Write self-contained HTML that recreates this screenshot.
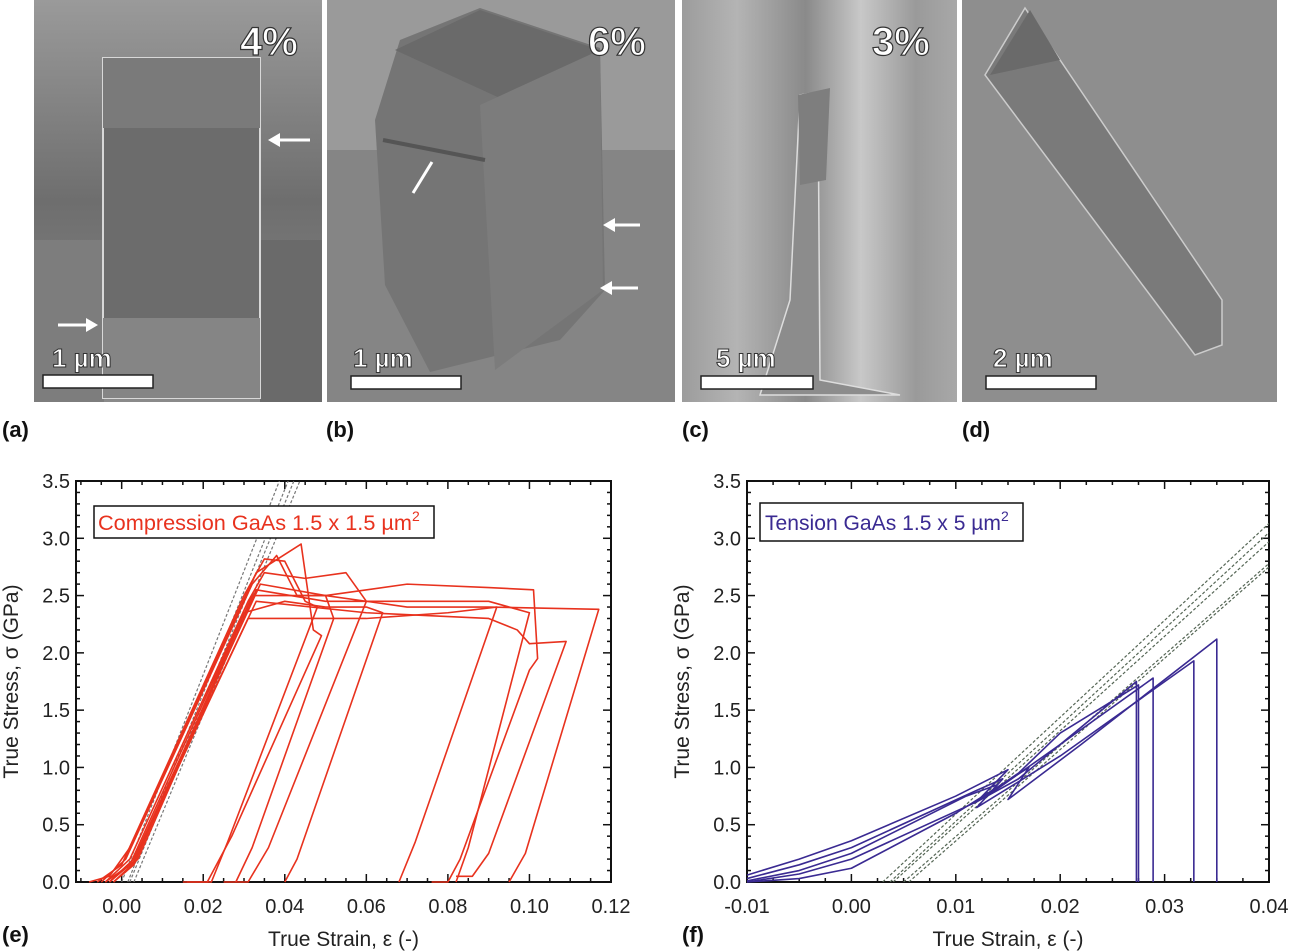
<!DOCTYPE html>
<html><head><meta charset="utf-8">
<style>
html,body{margin:0;padding:0;background:#fff;}
svg{display:block;font-family:"Liberation Sans",sans-serif;}
</style></head>
<body>
<svg id="fig" width="1289" height="952" viewBox="0 0 1289 952" xmlns="http://www.w3.org/2000/svg">
<defs>
<linearGradient id="gA" x1="0" y1="0" x2="0" y2="1"><stop offset="0" stop-color="#9a9a9a"/><stop offset="0.5" stop-color="#6e6e6e"/><stop offset="1" stop-color="#8a8a8a"/></linearGradient>
<linearGradient id="gC" x1="0" y1="0" x2="1" y2="0"><stop offset="0" stop-color="#9c9c9c"/><stop offset="0.2" stop-color="#b4b4b4"/><stop offset="0.45" stop-color="#8a8a8a"/><stop offset="0.65" stop-color="#c8c8c8"/><stop offset="0.85" stop-color="#9a9a9a"/><stop offset="1" stop-color="#a8a8a8"/></linearGradient>
</defs>

<g>
<rect x="34" y="0" width="288" height="402" fill="url(#gA)"/>
<rect x="34" y="240" width="70" height="162" fill="#7d7d7d"/>
<rect x="260" y="240" width="62" height="162" fill="#6a6a6a"/>
<rect x="103" y="58" width="157" height="340" fill="#6c6c6c" stroke="#d8d8d8" stroke-width="2"/>
<rect x="103" y="58" width="157" height="70" fill="#7a7a7a"/>
<rect x="103" y="318" width="157" height="80" fill="#858585"/>
<line x1="272" y1="140" x2="310" y2="140" stroke="#fff" stroke-width="3"/><polygon points="268,140 280,133 280,147" fill="#fff"/>
<line x1="58" y1="325" x2="92" y2="325" stroke="#fff" stroke-width="3"/><polygon points="98,325 86,318 86,332" fill="#fff"/>
<text x="240" y="55" font-size="40" font-weight="bold" fill="#fff" stroke="#333" stroke-width="1.2">4%</text>
<text x="52" y="367" font-size="26" font-weight="bold" fill="#fff" stroke="#333" stroke-width="1">1 µm</text>
<rect x="43" y="375" width="110" height="13" fill="#fff" stroke="#222" stroke-width="1.5"/>
</g>
<g>
<rect x="327" y="0" width="348" height="402" fill="#858585"/>
<rect x="327" y="0" width="348" height="150" fill="#9a9a9a"/>
<polygon points="375,120 400,40 480,8 600,48 605,290 560,340 430,372 385,285" fill="#757575"/>
<polygon points="395,50 480,10 600,50 515,105" fill="#6a6a6a"/>
<polygon points="480,105 600,50 603,290 495,370" fill="#7c7c7c"/>
<line x1="383" y1="140" x2="485" y2="160" stroke="#555" stroke-width="4"/>
<line x1="413" y1="193" x2="432" y2="162" stroke="#fff" stroke-width="3"/>
<line x1="612" y1="225" x2="640" y2="225" stroke="#fff" stroke-width="3"/><polygon points="603,225 615,218 615,232" fill="#fff"/>
<line x1="610" y1="288" x2="638" y2="288" stroke="#fff" stroke-width="3"/><polygon points="600,288 612,281 612,295" fill="#fff"/>
<text x="588" y="55" font-size="40" font-weight="bold" fill="#fff" stroke="#333" stroke-width="1.2">6%</text>
<text x="353" y="367" font-size="26" font-weight="bold" fill="#fff" stroke="#333" stroke-width="1">1 µm</text>
<rect x="351" y="376" width="110" height="13" fill="#fff" stroke="#222" stroke-width="1.5"/>
</g>
<g>
<rect x="682" y="0" width="275" height="402" fill="url(#gC)"/>
<path d="M800,95 L818,92 L820,380 L900,395 L760,395 L790,300 Z" fill="#8c8c8c" stroke="#ddd" stroke-width="1.5"/>
<polygon points="798,95 830,88 826,180 800,185" fill="#7e7e7e"/>
<text x="872" y="55" font-size="40" font-weight="bold" fill="#fff" stroke="#333" stroke-width="1.2">3%</text>
<text x="716" y="367" font-size="26" font-weight="bold" fill="#fff" stroke="#333" stroke-width="1">5 µm</text>
<rect x="701" y="376" width="112" height="13" fill="#fff" stroke="#222" stroke-width="1.5"/>
</g>
<g>
<rect x="962" y="0" width="315" height="402" fill="#8e8e8e"/>
<polygon points="985,75 1025,8 1222,300 1222,345 1195,355" fill="#7a7a7a" stroke="#ccc" stroke-width="1.5"/>
<polygon points="990,75 1030,10 1060,60" fill="#6a6a6a"/>
<text x="993" y="367" font-size="26" font-weight="bold" fill="#fff" stroke="#333" stroke-width="1">2 µm</text>
<rect x="986" y="376" width="110" height="13" fill="#fff" stroke="#222" stroke-width="1.5"/>
</g>
<g font-size="22" font-weight="bold" fill="#111">
<text x="2" y="437">(a)</text>
<text x="326" y="437">(b)</text>
<text x="682" y="437">(c)</text>
<text x="962" y="437">(d)</text>
<text x="2" y="942">(e)</text>
<text x="682" y="942">(f)</text>
</g>
<g id="chartE"></g>
<g id="chartF"></g>
</svg>
<script>
const eXTicks=[0.00,0.02,0.04,0.06,0.08,0.10,0.12];
const fXTicks=[-0.01,0.00,0.01,0.02,0.03,0.04];
const yTicks=[0.0,0.5,1.0,1.5,2.0,2.5,3.0,3.5];
const compCurves=[
[[-0.008,0],[-0.003,0.05],[0.002,0.3],[0.033,2.7],[0.044,2.95],[0.047,2.2],[0.049,2.15],[0.027,0.4],[0.021,0],[0.015,0]],
[[-0.006,0],[0.0,0.15],[0.03,2.5],[0.035,2.82],[0.04,2.8],[0.045,2.45],[0.048,2.4],[0.026,0.35],[0.022,0],[0.016,0]],
[[-0.005,0],[0.001,0.2],[0.032,2.6],[0.038,2.85],[0.043,2.5],[0.05,2.5],[0.052,2.3],[0.032,0.3],[0.028,0]],
[[-0.004,0],[0.002,0.2],[0.031,2.45],[0.035,2.7],[0.045,2.65],[0.055,2.7],[0.058,2.55],[0.06,2.45],[0.036,0.3],[0.031,0],[0.025,0]],
[[-0.004,0],[0.002,0.15],[0.03,2.35],[0.04,2.45],[0.05,2.4],[0.06,2.4],[0.064,2.35],[0.043,0.2],[0.04,0]],
[[-0.003,0],[0.003,0.2],[0.031,2.3],[0.04,2.3],[0.06,2.3],[0.08,2.35],[0.092,2.4],[0.072,0.35],[0.068,0]],
[[-0.002,0],[0.003,0.15],[0.032,2.5],[0.05,2.5],[0.07,2.6],[0.09,2.57],[0.101,2.55],[0.102,1.95],[0.1,1.85],[0.083,0.2],[0.08,0],[0.076,0]],
[[-0.002,0],[0.004,0.2],[0.033,2.55],[0.05,2.45],[0.07,2.45],[0.09,2.45],[0.1,2.35],[0.085,0.3],[0.082,0]],
[[-0.003,0],[0.003,0.2],[0.034,2.6],[0.05,2.5],[0.07,2.4],[0.09,2.4],[0.117,2.38],[0.099,0.25],[0.095,0]],
[[-0.003,0],[0.003,0.18],[0.033,2.45],[0.06,2.35],[0.09,2.3],[0.097,2.2],[0.1,2.08],[0.109,2.1],[0.09,0.25],[0.086,0.05],[0.082,0.05]]
];
const compFitStart=[0.0,0.0015,0.002,0.003];
const compFitSlope=[90.5,89,87,86];
const tensCurves=[
[[-0.01,0.06],[-0.005,0.2],[0.0,0.36],[0.01,0.75],[0.015,0.98],[0.012,0.7],[0.016,0.9],[0.02,1.2],[0.0273,1.75],[0.0273,0]],
[[-0.01,0.03],[-0.005,0.15],[0.0,0.3],[0.012,0.8],[0.0145,0.9],[0.013,0.75],[0.02,1.2],[0.0289,1.78],[0.0289,0]],
[[-0.01,0.01],[-0.005,0.1],[0.0,0.25],[0.011,0.75],[0.014,0.85],[0.012,0.65],[0.02,1.1],[0.0328,1.93],[0.0328,0]],
[[-0.01,0.0],[-0.005,0.03],[0.0,0.12],[0.01,0.6],[0.017,1.0],[0.015,0.72],[0.022,1.2],[0.035,2.12],[0.035,0]],
[[-0.01,0.0],[-0.005,0.07],[0.0,0.2],[0.012,0.7],[0.016,0.95],[0.02,1.3],[0.0275,1.72],[0.0275,0]]
];
const tensFitStart=[0.003,0.0037,0.004,0.005,0.0055];
const tensFitEnd=[3.13,3.05,2.97,2.78,2.75];

const NS="http://www.w3.org/2000/svg";
function mk(p,t,a){const e=document.createElementNS(NS,t);for(const k in a)e.setAttribute(k,a[k]);p.appendChild(e);return e;}
const PT=481,PB=882;
function Y(v){return PB-(v/3.5)*(PB-PT);}
function drawAxes(g,L,R,xmin,xmax,xt,minorStep,fmt){
  const X=v=>L+(v-xmin)/(xmax-xmin)*(R-L);
  const box=mk(g,'rect',{x:L,y:PT,width:R-L,height:PB-PT,fill:'none',stroke:'#111','stroke-width':2});
  
  
  for(let v=Math.ceil(xmin/minorStep-1e-6)*minorStep;v<=xmax+1e-9;v+=minorStep){
    const x=X(v);const major=xt.some(t=>Math.abs(t-v)<1e-6);const l=major?8:4;
    mk(g,'line',{x1:x,y1:PB,x2:x,y2:PB-l,stroke:'#111','stroke-width':1.5});
    mk(g,'line',{x1:x,y1:PT,x2:x,y2:PT+l,stroke:'#111','stroke-width':1.5});
  }
  xt.forEach(v=>{const t=mk(g,'text',{x:X(v),y:PB+31,'font-size':20,'text-anchor':'middle',fill:'#222'});t.textContent=fmt(v);
    
    });
  for(let i=0;i<=35;i++){const v=i/10;const y=Y(v);const l=(i%5===0)?8:4;
    mk(g,'line',{x1:L,y1:y,x2:L+l,y2:y,stroke:'#111','stroke-width':1.5});
    mk(g,'line',{x1:R,y1:y,x2:R-l,y2:y,stroke:'#111','stroke-width':1.5});}
  yTicks.forEach(v=>{const t=mk(g,'text',{x:L-6,y:Y(v)+7,'font-size':20,'text-anchor':'end',fill:'#222'});t.textContent=v.toFixed(1);
    
    });
  const xt2=mk(g,'text',{x:(L+R)/2,y:946,'font-size':21,'text-anchor':'middle',fill:'#222'});xt2.textContent='True Strain, ε (-)';
  
  
  const cy=(PT+PB)/2, cx=L-58;
  const yt=mk(g,'text',{x:cx,y:cy,'font-size':21,'text-anchor':'middle',fill:'#222',transform:`rotate(-90 ${cx} ${cy})`});yt.textContent='True Stress, σ (GPa)';
  
  
  return X;
}
function clipRect(g,id,L,R){const d=mk(g,'clipPath',{id:id});mk(d,'rect',{x:L,y:PT,width:R-L,height:PB-PT});}
const fmt2=v=>v.toFixed(2);
const gE=document.getElementById('chartE');
const XE=drawAxes(gE,76,611,-0.0112,0.12,eXTicks,0.005,fmt2);
clipRect(gE,'cE',76,611);
const fitsE=mk(gE,'g',{'clip-path':'url(#cE)'});
compFitStart.forEach((x0,i)=>{const x1=x0+3.6/compFitSlope[i];
  const l=mk(fitsE,'line',{x1:XE(x0),y1:Y(0),x2:XE(x1),y2:Y(3.6),stroke:'#777','stroke-width':1.2,'stroke-dasharray':'3,2'});
  
  });
compCurves.forEach(c=>{const p=mk(gE,'polyline',{points:c.map(q=>XE(q[0])+','+Y(q[1])).join(' '),fill:'none',stroke:'#e8321e','stroke-width':1.6,'stroke-linejoin':'round'});
  
  });
const lgE=mk(gE,'g',{});


mk(lgE,'rect',{x:94,y:506,width:340,height:32,fill:'#fff',stroke:'#111','stroke-width':1.5});
const tE=mk(lgE,'text',{x:98,y:530,'font-size':21,fill:'#e8321e'});
const mE=mk(tE,'tspan',{textLength:314,lengthAdjust:'spacingAndGlyphs'});mE.textContent='Compression GaAs 1.5 x 1.5 µm';
const sE=mk(tE,'tspan',{dy:-9,'font-size':14});sE.textContent='2';
const gF=document.getElementById('chartF');
const XF=drawAxes(gF,747,1269,-0.01,0.04,fXTicks,0.0025,fmt2);
clipRect(gF,'cF',747,1269);
const fitsF=mk(gF,'g',{'clip-path':'url(#cF)'});
tensFitStart.forEach((s,i)=>{const l=mk(fitsF,'line',{x1:XF(s),y1:Y(0),x2:XF(0.04),y2:Y(tensFitEnd[i]),stroke:'#556655','stroke-width':1.2,'stroke-dasharray':'3,2'});
  
  });
tensCurves.forEach(c=>{const p=mk(gF,'polyline',{points:c.map(q=>XF(q[0])+','+Y(q[1])).join(' '),fill:'none',stroke:'#3a2a92','stroke-width':1.6,'stroke-linejoin':'round'});
  
  });
const lgF=mk(gF,'g',{});


mk(lgF,'rect',{x:760,y:503,width:263,height:38,fill:'#fff',stroke:'#111','stroke-width':1.5});
const tF=mk(lgF,'text',{x:765,y:530,'font-size':21,fill:'#3a2a92'});
const mF=mk(tF,'tspan',{textLength:236,lengthAdjust:'spacingAndGlyphs'});mF.textContent='Tension GaAs 1.5 x 5 µm';
const sF=mk(tF,'tspan',{dy:-9,'font-size':14});sF.textContent='2';
</script>
</body></html>
